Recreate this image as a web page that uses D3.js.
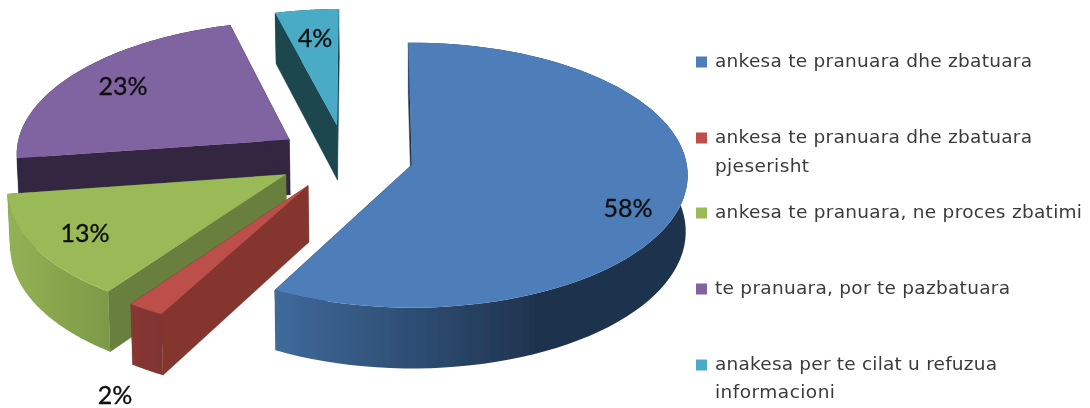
<!DOCTYPE html>
<html><head><meta charset="utf-8">
<script src="https://cdn.jsdelivr.net/npm/d3@7"></script>
<style>html,body{margin:0;padding:0;background:#fff;overflow:hidden}</style>
</head><body><svg id="c" width="1090" height="408"></svg>
<script>
// ---- data ----
const categories = [
  "ankesa te pranuara dhe zbatuara",
  "ankesa te pranuara dhe zbatuara pjeserisht",
  "ankesa te pranuara, ne proces zbatimi",
  "te pranuara, por te pazbatuara",
  "anakesa per te cilat u refuzua informacioni"
];
const values = [57.9, 2, 13, 23, 4.1];

// ---- styling & layout, separate from the data ----
const topColors   = ["#4d7eba", "#bd4f4c", "#9aba58", "#8063a1", "#4aabc5"];
const faceColors  = ["#1f3550", "#84362f", "#677f3c", "#33263f", "#1e4650"];
const wallFrom    = ["#3f6a9b", "#873733", "#93b254", "#33263f", "#1e4650"];
const wallTo      = ["#1e324d", "#7f3430", "#7d9947", "#33263f", "#1e4650"];
const legendLines = [
  ["ankesa te pranuara dhe zbatuara"],
  ["ankesa te pranuara dhe zbatuara", "pjeserisht"],
  ["ankesa te pranuara, ne proces zbatimi"],
  ["te pranuara, por te pazbatuara"],
  ["anakesa per te cilat u refuzua", "informacioni"]
];
const legendWidths = [[317], [317, 94], [367], [295], [282, 120]];
const legendBaselines = [[67], [143, 172], [218], [294], [370, 398]];
const labelAt = [[628, 208], [115, 395], [85, 233], [123, 86], [315, 38]];
const drawOrder = [4, 3, 2, 1, 0];

// perspective camera: plane (u right, v toward viewer, pie radius = 1) -> screen
const anchorX = 411, anchorY = 165, fx = 275, fy = 131.7, persp = 0.079;
const originU = -0.24, originV = -0.06, explode = 0.25, depth = 56, taper = 0.993;
const rotation = -0.014;
const project = (u, v, down = 0) => {
  const w = 1 / (1 - persp * v);
  const x = u * fx * w, y = v * fy * w;
  return down ? [anchorX + x * taper, anchorY + y + depth * w]
              : [anchorX + x, anchorY + y];
};

const svg = d3.select("#c");
const defs = svg.append("defs");
defs.append("filter").attr("id", "soft").append("feGaussianBlur").attr("stdDeviation", 0.55);
const root = svg.append("g").attr("filter", "url(#soft)");

const arcs = d3.pie().sort(null).startAngle(rotation).endAngle(2 * Math.PI + rotation)(values);
const line = d3.line();
const total = d3.sum(values);

arcs.forEach((a, i) => {
  const g = defs.append("linearGradient").attr("id", "wall" + i);
  g.append("stop").attr("offset", 0).attr("stop-color", wallFrom[i]);
  g.append("stop").attr("offset", i === 0 ? 0.65 : 1).attr("stop-color", wallTo[i]);
});

drawOrder.forEach(i => {
  const a = arcs[i], mid = (a.startAngle + a.endAngle) / 2;
  const cu = originU + explode * Math.sin(mid), cv = originV - explode * Math.cos(mid);
  const steps = d3.range(0, 81).map(t => a.startAngle + (a.endAngle - a.startAngle) * t / 80);
  const rim = steps.map(t => [cu + Math.sin(t), cv - Math.cos(t)]);
  const rimTop = rim.map(p => project(p[0], p[1]));
  const rimLow = rim.map(p => project(p[0], p[1], 1));
  const apexTop = project(cu, cv), apexLow = project(cu, cv, 1);
  const first = rim.length - 1;
  const s = root.append("g");
  s.append("path").attr("fill", faceColors[i]).attr("stroke", faceColors[i]).attr("stroke-width", 0.4)
    .attr("d", line([apexTop, rimTop[0], rimLow[0], apexLow]) + "Z");
  s.append("path").attr("fill", faceColors[i]).attr("stroke", faceColors[i]).attr("stroke-width", 0.4)
    .attr("d", line([apexTop, rimTop[first], rimLow[first], apexLow]) + "Z");
  s.append("path").attr("fill", `url(#wall${i})`)
    .attr("d", line(rimTop.concat(rimLow.slice().reverse())) + "Z");
  s.append("path").attr("fill", topColors[i])
    .attr("d", line([apexTop].concat(rimTop)) + "Z");
});

// data labels
root.selectAll("text.val").data(arcs).join("text").attr("class", "val")
  .attr("x", (d, i) => labelAt[i][0]).attr("y", (d, i) => labelAt[i][1] + 9)
  .attr("text-anchor", "middle")
  .attr("font-family", "Lato, 'Open Sans', sans-serif").attr("font-size", 25)
  .attr("fill", "#111").attr("stroke", "#111").attr("stroke-width", 0.35)
  .text(d => d3.format(".0%")(d.value / total));

// legend
const legend = root.selectAll("g.leg").data(categories).join("g").attr("class", "leg");
legend.append("rect").attr("x", 696).attr("width", 11).attr("height", 11)
  .attr("y", (d, i) => legendBaselines[i][0] - 10.5).attr("fill", (d, i) => topColors[i]);
legend.each(function (d, i) {
  d3.select(this).selectAll("text").data(legendLines[i]).join("text")
    .attr("x", 715).attr("y", (t, j) => legendBaselines[i][j])
    .attr("font-family", "'DejaVu Sans', sans-serif").attr("font-size", 18.5)
    .attr("fill", "#3a3a3a")
    .attr("textLength", (t, j) => legendWidths[i][j]).attr("lengthAdjust", "spacing")
    .text(t => t);
});
</script></body></html>
